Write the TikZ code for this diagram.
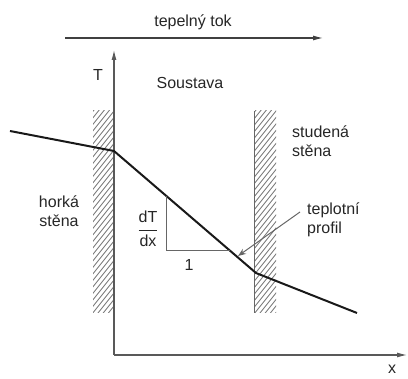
\documentclass[tikz,border=0pt]{standalone}
\usepackage{amsmath}
\usepackage{fontspec}
\setmainfont{Liberation Sans}
\usetikzlibrary{arrows.meta}

\begin{document}
\begin{tikzpicture}[x=1pt,y=-1pt,every node/.style={font=\fontsize{16}{19}\selectfont,text=black!85,inner sep=0pt},
  axis/.style={draw=black!65,line width=1.1pt,-{Latex[length=10pt,width=5pt]}},
  hatch/.style={draw=black!55,line width=0.8pt},
  profile/.style={draw=black!90,line width=2pt,line join=round},
  helper/.style={draw=black!60,line width=1pt}]
\useasboundingbox (0,0) rectangle (408,379);
% walls
\begin{scope}
\clip (93,111) rectangle (114,313);
\foreach \k in {0,6.5,...,260} \draw[hatch] (88,111+\k) -- (120,111+\k-40);
\end{scope}
\begin{scope}
\clip (255,111) rectangle (276,313);
\foreach \k in {0,6.5,...,260} \draw[hatch] (250,111+\k) -- (282,111+\k-40);
\end{scope}
\draw[helper] (254,111) -- (254,313);
% axes
\coordinate (O) at (114,355);
\coordinate (Ttip) at (114,50);
\coordinate (xtip) at (407,355);
\draw[axis] (O) -- (Ttip);
\draw[axis] (O) -- (xtip);
\node (Tlab) at (98,75) {T};
\node (xlab) at (392,369) {x};
% heat flow
\coordinate (q0) at (65,38);
\coordinate (q1) at (323,38);
\draw[axis,draw=black!75] (q0) -- (q1);
\node (flow) at (193,22) {tepelný tok};
\node (sys) at (190,83) {Soustava};
% profile
\coordinate (p0) at (10,131);
\coordinate (p1) at (114,151);
\coordinate (p2) at (256,273);
\coordinate (p3) at (357,313);
\draw[profile] (p0) -- (p1) -- (p2) -- (p3);
% slope
\coordinate (t0) at (166,195.7);
\coordinate (t1) at (166,251);
\coordinate (t2) at (230.3,251);
\draw[helper] (t0) -- (t1) -- (t2);
\node (frac) at (148,229) {$\dfrac{\text{dT}}{\text{dx}}$};
\node (one) at (189,265) {1};
% labels
\node[align=center] (hot) at (59,211) {horká\\stěna};
\node[align=left,anchor=west] (cold) at (292,141) {studená\\stěna};
\node[align=left,anchor=west] (prof) at (307,220) {teplotní\\profil};
\coordinate (ptr) at (300,212);
\coordinate (ptrtip) at (238,256);
\draw[helper,-{Stealth[length=8pt,width=6pt]}] (ptr) -- (ptrtip);
\end{tikzpicture}
\end{document}
